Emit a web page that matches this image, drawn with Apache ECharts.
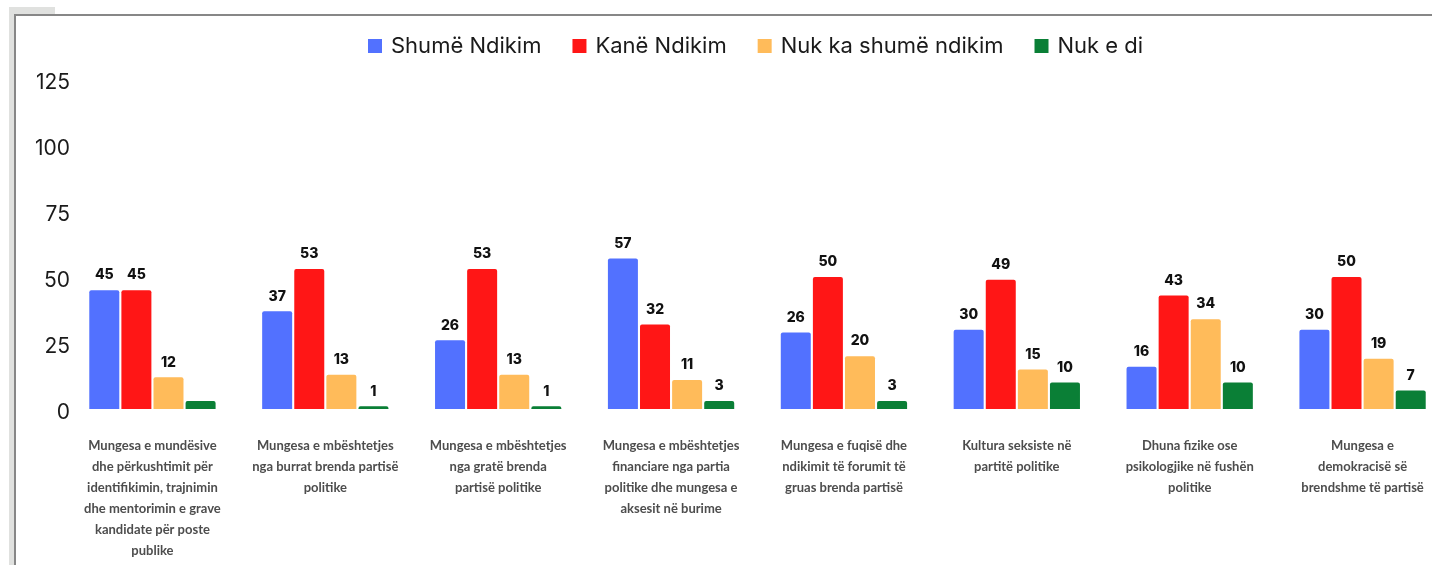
<!DOCTYPE html>
<html>
<head>
<meta charset="utf-8">
<script src="https://cdn.jsdelivr.net/npm/echarts@6/dist/echarts.min.js"></script>
<style>
    body { margin: 0; background: #fff; overflow: hidden; }
    #main { position: absolute; left: 0; top: 0; width: 1470px; height: 565px; }
    .bg { position: absolute; background: #e0e1df; }
    .line { position: absolute; background: #878787; }
</style>
</head>
<body>
<div id="main"></div>
<!-- 外框 -->
<div class="bg" style="left:9px;top:7px;width:46px;height:7px;"></div>
<div class="bg" style="left:9px;top:7px;width:5px;height:558px;"></div>
<div class="line" style="left:14px;top:14px;width:1418px;height:2px;"></div>
<div class="line" style="left:14px;top:14px;width:2px;height:551px;"></div>

<script type="text/javascript">

    // 分类
    var categories = [
        'Mungesa e mundësive\ndhe përkushtimit për\nidentifikimin, trajnimin\ndhe mentorimin e grave\nkandidate për poste\npublike',
        'Mungesa e mbështetjes\nnga burrat brenda partisë\npolitike',
        'Mungesa e mbështetjes\nnga gratë brenda\npartisë politike',
        'Mungesa e mbështetjes\nfinanciare nga partia\npolitike dhe mungesa e\naksesit në burime',
        'Mungesa e fuqisë dhe\nndikimit të forumit të\ngruas brenda partisë',
        'Kultura seksiste në\npartitë politike',
        'Dhuna fizike ose\npsikologjike në fushën\npolitike',
        'Mungesa e\ndemokracisë së\nbrendshme të partisë'
    ];

    var seriesNames = ['Shumë Ndikim', 'Kanë Ndikim', 'Nuk ka shumë ndikim', 'Nuk e di'];

    // 数据
    var shumeValues = [45, 37, 26, 57, 29, 30, 16, 30];
    var kaneValues = [45, 53, 53, 32, 50, 49, 43, 50];
    var nukKaValues = [12, 13, 13, 11, 20, 15, 34, 19];
    var nukDiValues = [3, 1, 1, 3, 3, 10, 10, 7];

    // 柱子上显示的标签
    var shumeLabels = ['45', '37', '26', '57', '26', '30', '16', '30'];
    var kaneLabels = ['45', '53', '53', '32', '50', '49', '43', '50'];
    var nukKaLabels = ['12', '13', '13', '11', '20', '15', '34', '19'];
    var nukDiLabels = ['', '1', '1', '3', '3', '10', '10', '7'];

    var yTicks = [0, 25, 50, 75, 100, 125];

    var colors = ['#5271ff', '#ff1616', '#ffbb5a', '#0a7f36'];

    var myChart = echarts.init(document.getElementById('main'));

    function makeSeries(name, values, labels) {
        return {
            name: name,
            type: 'bar',
            barWidth: 30,
            barGap: '7%',
            data: values,
            itemStyle: { borderRadius: [2, 2, 0, 0] },
            label: {
                show: true,
                position: 'top',
                distance: 8,
                fontFamily: 'Inter',
                fontWeight: 800,
                fontSize: 14,
                color: '#111',
                formatter: function (p) { return labels[p.dataIndex]; }
            }
        };
    }

    var option = {
        animation: false,
        color: colors,
        legend: {
            left: 363,
            top: 30,
            icon: 'rect',
            itemWidth: 14,
            itemHeight: 14,
            itemGap: 31,
            textStyle: { fontFamily: 'Inter', fontSize: 22, color: '#1a1a1a', padding: [0, 0, 0, 4] },
            data: seriesNames
        },
        grid: { left: 66, top: 79, width: 1383, height: 330 },
        xAxis: {
            type: 'category',
            data: categories,
            axisLine: { show: false },
            axisTick: { show: false },
            axisLabel: {
                interval: 0,
                margin: 26,
                fontFamily: 'Lato',
                fontWeight: 'bold',
                fontSize: 13,
                lineHeight: 21,
                color: '#4d4d4d'
            }
        },
        yAxis: {
            type: 'value',
            min: yTicks[0],
            max: yTicks[yTicks.length - 1],
            interval: 25,
            splitLine: { show: false },
            axisLine: { show: false },
            axisTick: { show: false },
            axisLabel: {
                margin: -4,
                verticalAlign: 'top',
                lineHeight: 8,
                fontFamily: 'Inter',
                fontSize: 21,
                color: '#1a1a1a'
            }
        },
        series: [
            makeSeries(seriesNames[0], shumeValues, shumeLabels),
            makeSeries(seriesNames[1], kaneValues, kaneLabels),
            makeSeries(seriesNames[2], nukKaValues, nukKaLabels),
            makeSeries(seriesNames[3], nukDiValues, nukDiLabels)
        ]
    };

    myChart.setOption(option);

</script>
</body>
</html>
